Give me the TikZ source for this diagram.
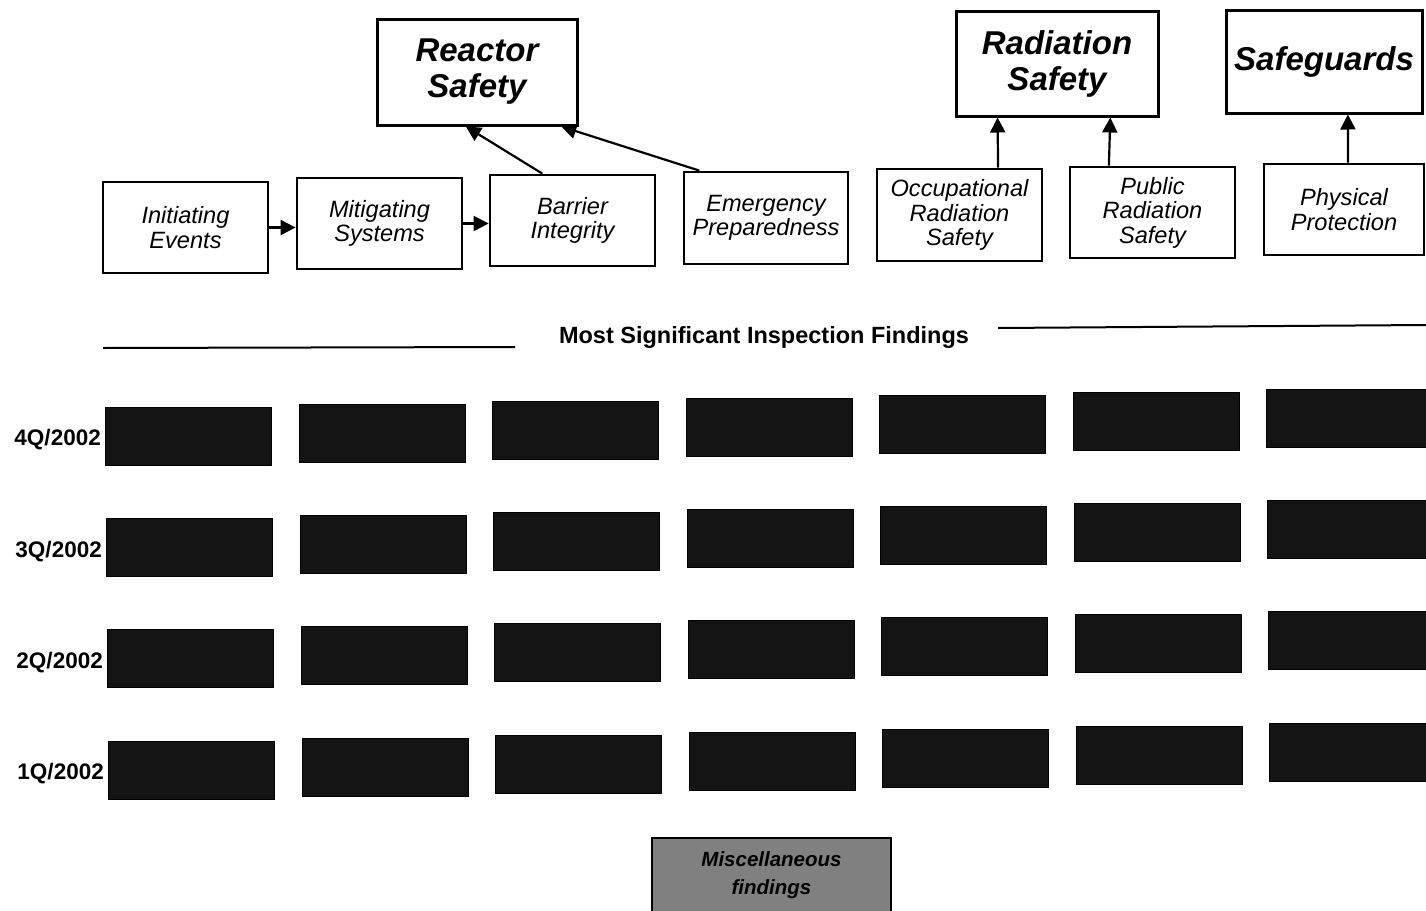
\documentclass[tikz,border=0pt]{standalone}
\usepackage{fontspec}
\setmainfont{Liberation Sans}
\usetikzlibrary{arrows.meta,calc}
\begin{document}
\begin{tikzpicture}[x=1pt,y=-1pt,
 big/.style={draw,line width=3pt,align=center,font=\fontsize{33}{36}\selectfont\bfseries\itshape,inner sep=0pt},
 sub/.style={draw,line width=2.8pt,align=center,font=\fontsize{23.6}{24.5}\selectfont\itshape,inner sep=0pt},
 find/.style={fill=black!92,draw=black,line width=0.8pt,inner sep=0pt,minimum width=166pt,minimum height=58pt,anchor=north west},
 lab/.style={font=\fontsize{22.5}{24}\selectfont\bfseries,anchor=east,inner sep=0pt},
 conn/.style={line width=2.2pt,-{Triangle[length=15pt,width=15pt]}},
 rule/.style={line width=2pt},
]
\useasboundingbox (0,0) rectangle (1426,910);
\fill[white] (0,0) rectangle (1426,910);
% top boxes
\node[big,minimum width=200pt,minimum height=106pt] (rs) at (477,72) {Reactor\\Safety};
\node[big,minimum width=202pt,minimum height=105pt] (rad) at (1057,63.5) {Radiation\\Safety};
\node[big,minimum width=196pt,minimum height=103pt] (sg) at (1324,61.5) {Safeguards};
% cornerstones
\node[sub,minimum width=165pt,minimum height=91pt] (ie) at (185.5,227.5) {Initiating\\Events};
\node[sub,minimum width=165pt,minimum height=91pt] (ms) at (379.5,223.5) {Mitigating\\Systems};
\node[sub,minimum width=165pt,minimum height=91pt] (bi) at (572.5,220.5) {Barrier\\Integrity};
\node[sub,minimum width=164pt,minimum height=92pt] (ep) at (766,218) {Emergency\\Preparedness};
\node[sub,minimum width=165pt,minimum height=92pt] (orad) at (959.5,215) {Occupational\\Radiation\\Safety};
\node[sub,minimum width=165pt,minimum height=91pt] (prad) at (1152.5,212.5) {Public\\Radiation\\Safety};
\node[sub,minimum width=160pt,minimum height=91pt] (pp) at (1344,209.5) {Physical\\Protection};
% connectors
\draw[conn] (ie.east) -- (ie.east -| ms.west);
\draw[conn] (ms.east) -- (ms.east -| bi.west);
\draw[conn] ($(bi.north west)!0.32!(bi.north east)$) -- ($(rs.south west)!0.445!(rs.south east)$);
\draw[conn] ($(ep.north west)!0.1!(ep.north east)$) -- ($(rs.south west)!0.915!(rs.south east)$);
\draw[conn] ($(orad.north west)!0.73!(orad.north east)$) -- ($(rad.south west)!0.21!(rad.south east)$);
\draw[conn] ($(prad.north west)!0.24!(prad.north east)$) -- ($(rad.south west)!0.76!(rad.south east)$);
\draw[conn] ($(pp.north west)!0.525!(pp.north east)$) -- ($(sg.south west)!0.62!(sg.south east)$);
% heading
\node[font=\fontsize{23.5}{26}\selectfont\bfseries,inner sep=0pt] (title) at (764,337) {Most Significant Inspection Findings};
\coordinate (l1) at (103,348);
\coordinate (l2) at (515,347);
\coordinate (r1) at (998,328);
\coordinate (r2) at (1426,325);
\draw[rule] (l1) -- (l2);
\draw[rule] (r1) -- (r2);
% quarter labels
\node[lab] (q4) at (101,440) {4Q/2002};
\node[lab] (q3) at (102,552) {3Q/2002};
\node[lab] (q2) at (103,663) {2Q/2002};
\node[lab] (q1) at (104,774) {1Q/2002};
% findings grid
\foreach \r in {0,1,2,3}{
  \foreach \c in {0,...,6}{
    \node[find] (f-\r-\c) at ({105+\r+193.5*\c},{407+111.2*\r-3*\c}) {};
  }
}
% miscellaneous
\node[draw,line width=2pt,fill=black!50,minimum width=239pt,minimum height=74pt,inner sep=0pt,align=center,
      font=\fontsize{20.5}{28}\selectfont\bfseries\itshape] (misc) at (771.5,875) {Miscellaneous\\findings};
\end{tikzpicture}
\end{document}
